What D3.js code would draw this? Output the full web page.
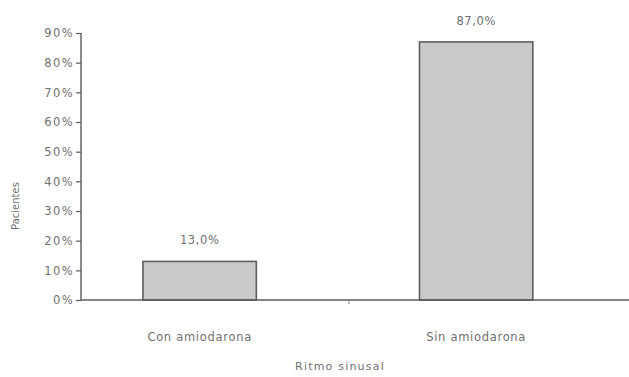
<!DOCTYPE html>
<html>
<head>
<meta charset="utf-8">
<script src="https://cdn.jsdelivr.net/npm/d3@7"></script>
<style>
  html, body { margin: 0; padding: 0; background: #ffffff; }
  svg { display: block; }
  text { font-family: "DejaVu Sans", sans-serif; fill: #707070; }
</style>
</head>
<body>
<svg id="chart" width="629" height="377"></svg>
<script>
// Categories and values (percent of patients in sinus rhythm)
const categories = ["Con amiodarona", "Sin amiodarona"];
const values = [13.0, 87.0];
const valueLabels = ["13,0%", "87,0%"];
const yTicks = [0, 10, 20, 30, 40, 50, 60, 70, 80, 90];
const yTickLabels = ["0%", "10%", "20%", "30%", "40%", "50%", "60%", "70%", "80%", "90%"];
const xTitle = "Ritmo sinusal";
const yTitle = "Pacientes";

const svg = d3.select("#chart");
const axisColor = "#5a5a5a";
const font = "'DejaVu Sans', sans-serif";

const x = d3.scaleBand()
  .domain(categories)
  .range([61.4, 614.4])
  .paddingInner(0.59)
  .paddingOuter(0.295);

const y = d3.scaleLinear()
  .domain([0, 90])
  .range([300, 33]);

const axisX = 81;

// Bars
svg.append("g").selectAll("rect")
  .data(values)
  .join("rect")
  .attr("x", (d, i) => x(categories[i]))
  .attr("y", d => y(d))
  .attr("width", x.bandwidth())
  .attr("height", d => y(0) - y(d))
  .attr("fill", "#c9c9c9")
  .attr("stroke", "#5e5e5e")
  .attr("stroke-width", 1.6);

// Value labels above bars
svg.append("g").selectAll("text")
  .data(values)
  .join("text")
  .attr("x", (d, i) => x(categories[i]) + x.bandwidth() / 2)
  .attr("y", d => y(d) - 17)
  .attr("text-anchor", "middle")
  .attr("font-size", 11.5)
  .attr("letter-spacing", 0.6)
  .text((d, i) => valueLabels[i]);

// Y axis
const yAxis = d3.axisLeft(y)
  .tickValues(yTicks)
  .tickFormat((d, i) => yTickLabels[i])
  .tickSize(5)
  .tickPadding(2);
const gy = svg.append("g")
  .attr("transform", `translate(${axisX},0)`)
  .call(yAxis);
gy.select(".domain").attr("stroke", axisColor).attr("stroke-width", 1.4)
  .attr("d", `M0,${y(90)}V${y(0)}`);
gy.selectAll(".tick line").attr("stroke", axisColor).attr("stroke-width", 1.2);
gy.selectAll(".tick text")
  .attr("font-family", font)
  .attr("font-size", 11.5)
  .attr("letter-spacing", 1.4)
  .attr("fill", "#707070");

// X axis baseline running to the right edge
svg.append("line")
  .attr("x1", axisX).attr("x2", 629)
  .attr("y1", y(0)).attr("y2", y(0))
  .attr("stroke", axisColor)
  .attr("stroke-width", 1.4);

// Small tick between the two categories
svg.append("line")
  .attr("x1", 349).attr("x2", 349)
  .attr("y1", y(0)).attr("y2", y(0) + 4)
  .attr("stroke", "#888")
  .attr("stroke-width", 1);

// Category labels
svg.append("g").selectAll("text")
  .data(categories)
  .join("text")
  .attr("x", d => x(d) + x.bandwidth() / 2)
  .attr("y", 341)
  .attr("text-anchor", "middle")
  .attr("font-size", 11.5)
  .attr("letter-spacing", 0.7)
  .text(d => d);

// Axis titles
svg.append("text")
  .attr("x", 340)
  .attr("y", 370)
  .attr("text-anchor", "middle")
  .attr("font-size", 11)
  .attr("letter-spacing", 1.2)
  .text(xTitle);

svg.append("text")
  .attr("transform", "translate(19,206) rotate(-90)")
  .attr("text-anchor", "middle")
  .attr("font-size", 10)
  .attr("fill", "#606060")
  .text(yTitle);
</script>
</body>
</html>
